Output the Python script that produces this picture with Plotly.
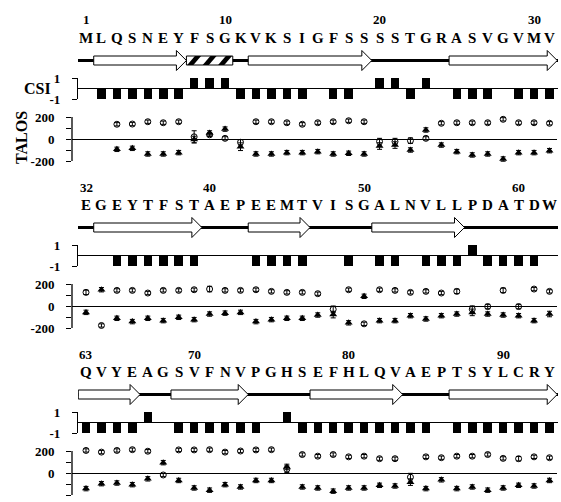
import plotly.graph_objects as go

# ---------------- data ----------------
sequence_1 = "MLQSNEYFSGKVKSIGFSSSSTGRASVGVMV"
sequence_2 = "EGEYTFSTAEPEEMTVISGALNVLLPDATDW"
sequence_3 = "QVYEAGSVFNVPGHSEFHLQVAEPTSYLCRY"
first_residue = [1, 32, 63]
number_labels_1 = [1, 10, 20, 30]
number_labels_2 = [32, 40, 50, 60]
number_labels_3 = [63, 70, 80, 90]

csi_1 = [0, -1, -1, -1, -1, -1, -1, 1, 1, 1, -1, -1, -1, -1, -1, 0, -1, -1, 0, 1, 1, -1, 1, 0, -1, -1, -1, 0, -1, -1, -1]
csi_2 = [0, 0, -1, -1, -1, -1, -1, -1, 0, 0, 0, -1, -1, -1, -1, 0, 0, -1, 0, -1, -1, 0, -1, -1, -1, 1, -1, -1, -1, -1, 0]
csi_3 = [-1, -1, -1, -1, 1, 0, -1, -1, -1, -1, -1, -1, 0, 1, -1, -1, -1, -1, -1, -1, -1, -1, -1, 0, -1, -1, -1, -1, -1, -1, -1]

# TALOS psi (circles) and phi (triangles), degrees
psi_1 = [None, None, 134, 136, 157, 148, 157, 20, 38, 6, -30, 157, 157, 148, 134, 148, 157, 166, 157, -24, -24, -15, 6, 143, 148, 148, 148, 179, 148, 148, 143]
phi_1 = [None, None, -94, -85, -136, -136, -124, -5, 55, 90, -70, -136, -136, -124, -124, -115, -136, -130, -136, -64, -55, -100, 82, -55, -115, -145, -136, -182, -124, -124, -106]
psi_err_1 = [0, 0, 15, 15, 15, 15, 15, 55, 15, 15, 25, 15, 15, 15, 15, 15, 15, 15, 15, 30, 30, 25, 15, 15, 15, 15, 15, 15, 15, 15, 15]
phi_err_1 = [0, 0, 20, 20, 20, 20, 20, 30, 20, 20, 35, 20, 20, 20, 20, 20, 20, 20, 20, 30, 30, 20, 20, 20, 20, 20, 20, 20, 20, 20, 20]

psi_2 = [124, -177, 142, 142, 118, 142, 142, 148, 154, 142, 142, 148, 133, 124, 124, 112, -30, 148, -162, 148, 142, 124, 133, 118, 133, -29, -5, 142, -5, 154, 133]
phi_2 = [-58, 148, -112, -142, -112, -133, -103, -124, -73, -65, -58, -142, -124, -112, -112, -82, -78, -153, 88, -133, -133, -88, -118, -88, -73, -58, -73, -82, -88, -133, -73]
psi_err_2 = [20, 15, 15, 15, 15, 15, 15, 15, 25, 15, 15, 15, 15, 15, 15, 15, 30, 15, 15, 15, 15, 15, 15, 15, 20, 30, 20, 20, 20, 15, 15]
phi_err_2 = [20, 20, 20, 20, 20, 20, 20, 20, 20, 20, 20, 20, 20, 20, 20, 20, 30, 20, 20, 20, 20, 20, 20, 20, 20, 30, 20, 20, 20, 20, 25]

psi_3 = [205, 190, 205, 212, 198, -18, 210, 210, 212, 190, 200, 210, 212, 35, 168, 153, 168, 147, 153, 130, 130, -38, 147, 139, 153, 153, 168, 133, 130, 147, 139]
phi_3 = [-142, -97, -91, -106, -53, 94, -68, -136, -156, -106, -127, -68, -68, 55, -127, -136, -165, -136, -136, -112, -118, -83, -142, -62, -142, -127, -156, -136, -112, -118, -68]
psi_err_3 = [15, 15, 15, 15, 15, 15, 15, 15, 15, 15, 15, 15, 15, 30, 15, 15, 15, 15, 15, 15, 15, 35, 15, 15, 15, 15, 15, 15, 20, 15, 15]
phi_err_3 = [20, 20, 20, 20, 20, 20, 20, 20, 20, 20, 20, 20, 20, 25, 20, 20, 20, 20, 20, 20, 20, 30, 20, 20, 20, 20, 20, 20, 20, 20, 20]

# secondary structure: strands (arrows) and helix (hatched box), residue ranges
strands_1 = [(2, 7), (12, 19), (25, 31)]
strands_2 = [(33, 39), (43, 46), (51, 56)]
strands_3 = [(63, 66), (69, 73), (78, 83), (87, 93)]
helices_1 = [(8, 10)]
helices_2 = []
helices_3 = []

sequences = [sequence_1, sequence_2, sequence_3]
number_labels = [number_labels_1, number_labels_2, number_labels_3]
csis = [csi_1, csi_2, csi_3]
psis = [psi_1, psi_2, psi_3]
phis = [phi_1, phi_2, phi_3]
psi_errs = [psi_err_1, psi_err_2, psi_err_3]
phi_errs = [phi_err_1, phi_err_2, phi_err_3]
strands = [strands_1, strands_2, strands_3]
helices = [helices_1, helices_2, helices_3]

# ---------------- layout constants (pixels) ----------------
W, H = 561, 502
X0, DX = 86.0, 15.45          # pixel x of residue index 0, pixels per residue
OFFS = [0, 167, 334]          # vertical offset of each block
FONT = "Liberation Serif"
TR = 240                      # talos axis half-range (points above 200 stay visible)
TPX = 44.0 / 400.0            # talos pixels per degree


def i_of(px):
    return (px - X0) / DX


def py(px):
    return 1 - px / H


fig = go.Figure()
layout = {}
annotations = []
shapes = []

for b in range(3):
    off = OFFS[b]
    ci, ti = 2 * b + 1, 2 * b + 2
    xc = "x" if ci == 1 else f"x{ci}"
    yc = "y" if ci == 1 else f"y{ci}"
    xt, yt = f"x{ti}", f"y{ti}"
    n = len(sequences[b])
    idx = list(range(n))

    fig.add_trace(go.Bar(x=idx, y=csis[b], xaxis=xc, yaxis=yc, width=0.55,
                         marker=dict(color="black", line=dict(width=0)),
                         showlegend=False, hoverinfo="skip"))
    fig.add_trace(go.Scatter(x=idx, y=psis[b], xaxis=xt, yaxis=yt, mode="markers",
                             marker=dict(symbol="circle-open", size=6, color="black",
                                         line=dict(width=1, color="black")),
                             error_y=dict(type="data", array=psi_errs[b], color="black",
                                          thickness=1, width=2.5),
                             cliponaxis=False, showlegend=False))
    fig.add_trace(go.Scatter(x=idx, y=phis[b], xaxis=xt, yaxis=yt, mode="markers",
                             marker=dict(symbol="triangle-up", size=7, color="black",
                                         line=dict(width=0)),
                             error_y=dict(type="data", array=phi_errs[b], color="black",
                                          thickness=1, width=2.5),
                             cliponaxis=False, showlegend=False))

    xrc = [i_of(78), i_of(558)]
    xrt = [i_of(72), i_of(557)]
    tick_font = dict(family=FONT, size=13, color="black", weight="bold")
    layout["xaxis" if ci == 1 else f"xaxis{ci}"] = dict(
        domain=[78 / W, 558 / W], range=xrc, visible=False, anchor=yc, automargin=False)
    layout["yaxis" if ci == 1 else f"yaxis{ci}"] = dict(
        domain=[py(99 + off), py(78 + off)], range=[-1, 1], anchor=xc, automargin=False,
        tickvals=[-1, 1], ticktext=["-1", "1"], ticks="outside", ticklen=5,
        tickwidth=1.3, tickcolor="black", showline=True, linewidth=1.3,
        linecolor="black", zeroline=True, zerolinewidth=1.3, zerolinecolor="black",
        showgrid=False, tickfont=tick_font, ticklabelstandoff=9)
    zero_t = 139 + off
    layout[f"xaxis{ti}"] = dict(domain=[72 / W, 557 / W], range=xrt, visible=False,
                                anchor=yt, automargin=False)
    layout[f"yaxis{ti}"] = dict(
        domain=[py(zero_t + TR * TPX), py(zero_t - TR * TPX)], range=[-TR, TR], anchor=xt,
        automargin=False,
        tickvals=[-200, -100, 0, 100, 200], ticktext=["-200", "", "0", "", "200"],
        ticks="outside", ticklen=5, tickwidth=1.3, tickcolor="black", showline=False,
        zeroline=True, zerolinewidth=1.3,
        zerolinecolor="black", showgrid=False, tickfont=tick_font, ticklabelstandoff=9)
    # talos axis spine, only between -200 and 200 (bracket look)
    shapes.append(dict(type="line", xref="paper", yref=yt, x0=72 / W, x1=72 / W,
                       y0=-200, y1=200, line=dict(color="black", width=1.3)))

    # sequence letters and residue numbers
    for k, ch in enumerate(sequences[b]):
        annotations.append(dict(x=k, xref=xc, y=py(37.5 + off), yref="paper", text=ch,
                                showarrow=False, xanchor="center", yanchor="middle",
                                font=dict(family=FONT, size=15, color="black", weight="bold")))
    for num in number_labels[b]:
        annotations.append(dict(x=num - first_residue[b], xref=xc, y=py(20 + off), yref="paper",
                                text=str(num), showarrow=False, xanchor="center", yanchor="middle",
                                font=dict(family=FONT, size=13, color="black", weight="bold")))

    # secondary structure
    yc_p = py(60.5 + off)
    bh = 4.5 / H
    hh = 10.0 / H
    shapes.append(dict(type="line", xref=xc, yref="paper", x0=xrc[0], x1=xrc[1],
                       y0=yc_p, y1=yc_p, line=dict(color="black", width=3)))
    for (r0, r1) in strands[b]:
        s = r0 - first_residue[b] - 0.5
        t = r1 - first_residue[b] + 0.5
        hb = t - 10.0 / DX
        path = (f"M{s},{yc_p - bh} L{hb},{yc_p - bh} L{hb},{yc_p - hh} L{t},{yc_p} "
                f"L{hb},{yc_p + hh} L{hb},{yc_p + bh} L{s},{yc_p + bh} Z")
        shapes.append(dict(type="path", xref=xc, yref="paper", path=path,
                           fillcolor="white", line=dict(color="black", width=1)))
    for (r0, r1) in helices[b]:
        s = r0 - first_residue[b] - 0.5
        e = r1 - first_residue[b] + 0.5
        shapes.append(dict(type="rect", xref=xc, yref="paper", x0=s, x1=e,
                           y0=yc_p - bh, y1=yc_p + bh, fillcolor="white",
                           line=dict(color="black", width=1)))
        for r in range(r0, r1 + 1):
            c = r - first_residue[b]
            path = (f"M{c - 0.45},{yc_p - bh} L{c - 0.05},{yc_p - bh} "
                    f"L{c + 0.45},{yc_p + bh} L{c + 0.05},{yc_p + bh} Z")
            shapes.append(dict(type="path", xref=xc, yref="paper", path=path,
                               fillcolor="black", line=dict(width=0)))

annotations.append(dict(x=37 / W, y=py(88), xref="paper", yref="paper", text="CSI",
                        showarrow=False, xanchor="center", yanchor="middle",
                        font=dict(family=FONT, size=16, color="black", weight="bold")))
annotations.append(dict(x=21 / W, y=py(138), xref="paper", yref="paper", text="TALOS",
                        showarrow=False, textangle=-90, xanchor="center", yanchor="middle",
                        font=dict(family=FONT, size=16, color="black", weight="bold")))

fig.update_layout(width=W, height=H, margin=dict(l=0, r=0, t=0, b=0, autoexpand=False),
                  paper_bgcolor="white", plot_bgcolor="white", showlegend=False,
                  annotations=annotations, shapes=shapes, bargap=0, **layout)

fig.write_html("out.html", config={"displayModeBar": False},
               post_script="document.body.style.margin='0px';")
